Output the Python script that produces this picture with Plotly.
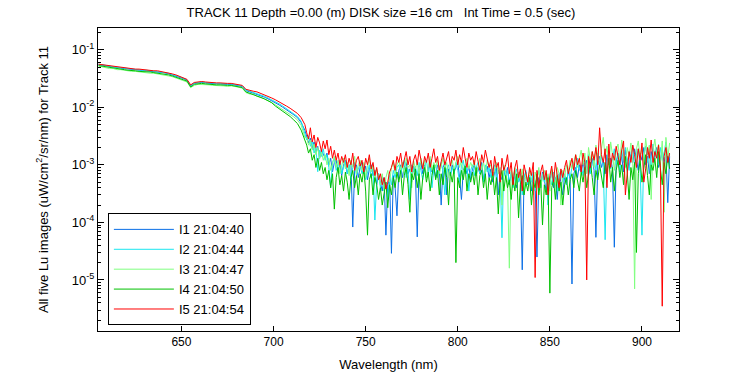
import plotly.graph_objects as go

wavelength = [
    605, 607, 609, 611, 613, 615, 617, 619, 621, 623, 625, 627, 629, 631, 633, 635, 637, 639, 641, 643,
    645, 647, 649, 651, 653, 655, 657, 659, 661, 663, 665, 667, 669, 671, 673, 675, 677, 679, 681, 683,
    685, 687, 689, 691, 693, 695, 697, 699, 701, 703, 705, 707, 709, 711, 713, 715, 717,
    718, 719, 720, 721, 722, 723, 724, 725, 726, 727,
    728, 729, 730, 731, 732, 733, 734, 735, 736, 737,
    738, 739, 740, 741, 742, 743, 744, 745, 746, 747,
    748, 749, 750, 751, 752, 753, 754, 755, 756, 757,
    758, 759, 760, 761, 762, 763, 764, 765, 766, 767,
    768, 769, 770, 771, 772, 773, 774, 775, 776, 777,
    778, 779, 780, 781, 782, 783, 784, 785, 786, 787,
    788, 789, 790, 791, 792, 793, 794, 795, 796, 797,
    798, 799, 800, 801, 802, 803, 804, 805, 806, 807,
    808, 809, 810, 811, 812, 813, 814, 815, 816, 817,
    818, 819, 820, 821, 822, 823, 824, 825, 826, 827,
    828, 829, 830, 831, 832, 833, 834, 835, 836, 837,
    838, 839, 840, 841, 842, 843, 844, 845, 846, 847,
    848, 849, 850, 851, 852, 853, 854, 855, 856, 857,
    858, 859, 860, 861, 862, 863, 864, 865, 866, 867,
    868, 869, 870, 871, 872, 873, 874, 875, 876, 877,
    878, 879, 880, 881, 882, 883, 884, 885, 886, 887,
    888, 889, 890, 891, 892, 893, 894, 895, 896, 897,
    898, 899, 900, 901, 902, 903, 904, 905, 906, 907,
    908, 909, 910, 911, 912, 913, 914, 915,
]

lu_i1 = [
    5.5e-2, 5.4e-2, 5.2e-2, 5.1e-2, 5.0e-2, 4.9e-2, 4.8e-2, 4.7e-2, 4.6e-2, 4.55e-2, 4.5e-2, 4.4e-2, 4.35e-2, 4.3e-2, 4.25e-2,
    4.2e-2, 4.1e-2, 4.05e-2, 3.95e-2, 3.8e-2, 3.65e-2, 3.5e-2, 3.3e-2, 3.15e-2, 2.95e-2, 2.35e-2, 2.6e-2, 2.65e-2, 2.7e-2,
    2.65e-2, 2.6e-2, 2.6e-2, 2.55e-2, 2.55e-2, 2.5e-2, 2.5e-2, 2.5e-2, 2.45e-2, 2.4e-2, 2.3e-2, 1.95e-2, 1.85e-2, 1.8e-2,
    1.7e-2, 1.6e-2, 1.5e-2, 1.4e-2, 1.3e-2, 1.2e-2, 1.1e-2, 1.0e-2, 9.1e-3, 8.3e-3, 7.4e-3, 6.6e-3, 5.4e-3, 4.0e-3,
    3.0e-3, 2.4e-3, 2.9e-3, 1.9e-3, 2.5e-3, 1.6e-3, 2.1e-3, 1.3e-3, 1.8e-3, 1.5e-3,
    1.3e-3, 1.6e-3, 1.0e-3, 1.3e-3, 7.5e-4, 1.1e-3, 1.2e-3, 8.0e-4, 1.0e-3, 6.5e-4,
    1.0e-3, 1.2e-3, 7.0e-4, 9.0e-4, 1.1e-3, 8.3e-5, 8.0e-4, 1.0e-3, 6.0e-4, 9.0e-4,
    1.1e-3, 7.0e-4, 9.5e-4, 5.5e-4, 8.5e-4, 1.0e-3, 6.5e-4, 8.0e-4, 4.5e-4, 7.0e-4,
    5.0e-4, 3.5e-4, 6.0e-4, 6.0e-5, 4.5e-4, 5.5e-4, 2.9e-5, 6.5e-4, 4.0e-4, 1.3e-4,
    8.0e-4, 1.0e-3, 6.0e-4, 9.0e-4, 1.1e-3, 7.0e-4, 8.5e-4, 5.0e-4, 9.5e-4, 7.5e-4,
    5.6e-5, 9.0e-4, 1.1e-3, 7.0e-4, 1.0e-3, 6.0e-4, 8.5e-4, 1.2e-3, 7.5e-4, 9.0e-4,
    6.0e-4, 1.0e-3, 8.0e-4, 2.0e-4, 9.0e-4, 1.1e-3, 3.0e-4, 8.5e-4, 6.5e-4, 1.0e-3,
    7.5e-4, 9.0e-4, 1.1e-3, 6.0e-4, 2.5e-4, 8.0e-4, 1.0e-3, 7.0e-4, 9.5e-4, 5.5e-4,
    8.5e-4, 1.0e-3, 6.5e-4, 9.0e-4, 7.0e-4, 1.1e-3, 5.5e-4, 8.0e-4, 9.5e-4, 6.0e-4,
    8.5e-4, 5.0e-4, 7.5e-4, 9.0e-4, 3.0e-4, 7.0e-4, 5.5e-4, 8.0e-4, 6.0e-4, 9.0e-4,
    4.5e-4, 7.0e-4, 5.5e-4, 8.0e-4, 4.0e-4, 6.5e-4, 5.0e-4, 1.5e-5, 6.0e-4, 7.5e-4,
    4.5e-4, 6.5e-4, 3.5e-4, 7.0e-4, 5.0e-4, 2.5e-5, 6.0e-4, 4.0e-4, 7.5e-4, 5.5e-4,
    3.5e-4, 6.5e-4, 5.0e-4, 8.0e-4, 4.0e-4, 6.0e-4, 2.5e-4, 7.0e-4, 5.0e-4, 3.0e-4,
    6.5e-4, 4.5e-4, 8.0e-4, 5.5e-4, 8.5e-6, 7.0e-4, 9.0e-4, 6.0e-4, 1.0e-3, 7.5e-4,
    1.1e-3, 8.0e-4, 1.2e-3, 6.5e-4, 9.5e-4, 1.3e-3, 8.0e-4, 5.5e-5, 1.0e-3, 1.4e-3,
    9.0e-4, 1.2e-3, 7.0e-4, 1.5e-3, 1.0e-3, 1.3e-3, 8.5e-4, 3.7e-5, 1.1e-3, 1.6e-3,
    1.0e-3, 1.4e-3, 7.5e-4, 1.8e-3, 1.2e-3, 9.0e-4, 1.5e-3, 1.1e-3, 1.9e-3, 1.3e-3,
    8.0e-4, 1.6e-3, 1.2e-3, 2.0e-3, 1.0e-3, 1.4e-3, 7.0e-4, 1.7e-3, 1.1e-3, 1.5e-3,
    2.0e-3, 9.0e-4, 1.3e-3, 1.8e-3, 1.1e-3, 1.6e-3, 2.2e-4, 1.4e-3,
]

lu_i2 = [
    5.6e-2, 5.5e-2, 5.3e-2, 5.2e-2, 5.0e-2, 5.0e-2, 4.9e-2, 4.8e-2, 4.7e-2, 4.6e-2, 4.6e-2, 4.5e-2, 4.4e-2, 4.4e-2, 4.3e-2,
    4.3e-2, 4.2e-2, 4.1e-2, 4.0e-2, 3.9e-2, 3.7e-2, 3.6e-2, 3.4e-2, 3.2e-2, 3.0e-2, 2.4e-2, 2.65e-2, 2.7e-2, 2.75e-2,
    2.7e-2, 2.65e-2, 2.65e-2, 2.6e-2, 2.6e-2, 2.55e-2, 2.55e-2, 2.55e-2, 2.5e-2, 2.45e-2, 2.35e-2, 2.0e-2, 1.9e-2, 1.85e-2,
    1.75e-2, 1.65e-2, 1.55e-2, 1.45e-2, 1.35e-2, 1.25e-2, 1.15e-2, 1.05e-2, 9.4e-3, 8.6e-3, 7.7e-3, 6.9e-3, 5.7e-3, 3.6e-3,
    2.7e-3, 3.2e-3, 2.1e-3, 2.6e-3, 1.6e-3, 2.0e-3, 7.6e-4, 1.8e-3, 1.4e-3, 1.9e-3,
    1.2e-3, 1.5e-3, 9.0e-4, 4.0e-4, 1.1e-3, 1.3e-3, 8.0e-4, 1.0e-3, 1.2e-3, 7.0e-4,
    9.5e-4, 1.2e-3, 7.0e-4, 1.0e-3, 5.5e-4, 9.0e-4, 1.1e-3, 6.5e-4, 8.5e-4, 1.0e-3,
    7.0e-4, 9.0e-4, 5.5e-4, 8.0e-4, 1.0e-3, 6.0e-4, 8.5e-4, 1.1e-4, 5.0e-4, 7.0e-4,
    4.0e-4, 6.0e-4, 3.5e-4, 5.0e-4, 2.5e-4, 6.5e-4, 4.5e-4, 8.0e-4, 6.0e-4, 9.0e-4,
    1.0e-3, 7.0e-4, 9.0e-4, 1.2e-3, 6.0e-4, 8.5e-4, 2.5e-4, 1.0e-3, 7.5e-4, 9.5e-4,
    6.5e-4, 1.1e-3, 8.0e-4, 5.5e-4, 9.0e-4, 1.2e-3, 7.0e-4, 1.0e-3, 4.0e-4, 8.5e-4,
    1.0e-3, 6.0e-4, 9.0e-4, 1.1e-3, 7.5e-4, 3.0e-4, 8.5e-4, 1.0e-3, 6.5e-4, 9.0e-4,
    7.0e-4, 1.1e-3, 8.0e-4, 5.0e-4, 9.5e-4, 1.2e-3, 7.0e-4, 9.0e-4, 3.5e-4, 8.0e-4,
    1.0e-3, 6.5e-4, 9.0e-4, 1.1e-3, 7.0e-4, 8.5e-4, 5.0e-4, 1.0e-3, 7.5e-4, 9.0e-4,
    6.0e-4, 8.5e-4, 1.0e-3, 5.5e-4, 8.0e-4, 7.0e-4, 5.4e-5, 9.0e-4, 6.0e-4, 8.0e-4,
    5.0e-4, 7.5e-4, 4.0e-4, 6.5e-4, 8.5e-4, 5.0e-4, 7.0e-4, 3.0e-4, 6.0e-4, 8.0e-4,
    4.5e-4, 6.5e-4, 5.0e-4, 7.5e-4, 3.5e-4, 6.0e-4, 8.0e-4, 4.0e-4, 6.5e-4, 5.0e-4,
    7.0e-4, 2.0e-4, 6.0e-4, 4.5e-4, 7.5e-4, 5.5e-4, 3.5e-4, 6.5e-4, 8.0e-4, 5.0e-4,
    7.0e-4, 4.5e-4, 8.5e-4, 6.0e-4, 9.0e-4, 1.1e-3, 7.0e-4, 1.3e-3, 8.0e-4, 1.0e-3,
    6.5e-4, 1.2e-3, 9.0e-4, 1.5e-3, 7.0e-4, 1.1e-3, 1.3e-3, 8.0e-4, 1.6e-3, 1.0e-3,
    1.4e-3, 9.0e-4, 5.0e-5, 1.2e-3, 1.7e-3, 8.5e-4, 1.3e-3, 1.9e-3, 1.0e-3, 1.5e-3,
    7.5e-4, 1.8e-3, 1.1e-3, 2.0e-3, 1.2e-3, 8.0e-4, 1.6e-3, 2.2e-3, 1.0e-3, 1.4e-3,
    1.9e-3, 9.0e-4, 6.0e-5, 1.5e-3, 2.1e-3, 1.1e-3, 1.7e-3, 8.0e-4, 2.3e-3, 1.3e-3,
    1.8e-3, 1.0e-3, 2.0e-3, 1.2e-3, 1.6e-3, 2.5e-3, 1.1e-3, 1.5e-3,
]

lu_i3 = [
    5.2e-2, 5.0e-2, 4.9e-2, 4.7e-2, 4.7e-2, 4.5e-2, 4.5e-2, 4.4e-2, 4.2e-2, 4.2e-2, 4.2e-2, 4.1e-2, 4.0e-2, 4.0e-2, 3.9e-2,
    3.9e-2, 3.8e-2, 3.7e-2, 3.7e-2, 3.5e-2, 3.4e-2, 3.2e-2, 3.1e-2, 2.9e-2, 2.75e-2, 2.2e-2, 2.4e-2, 2.5e-2, 2.5e-2,
    2.45e-2, 2.45e-2, 2.4e-2, 2.4e-2, 2.35e-2, 2.35e-2, 2.3e-2, 2.35e-2, 2.3e-2, 2.2e-2, 2.15e-2, 1.8e-2, 1.7e-2, 1.7e-2,
    1.55e-2, 1.5e-2, 1.4e-2, 1.3e-2, 1.2e-2, 1.1e-2, 1.0e-2, 9.3e-3, 8.5e-3, 7.6e-3, 6.8e-3, 6.0e-3, 4.9e-3, 3.0e-3,
    3.0e-3, 2.2e-3, 2.7e-3, 1.8e-3, 2.3e-3, 1.5e-3, 2.0e-3, 1.3e-3, 1.7e-3, 1.2e-3,
    1.5e-3, 1.0e-3, 1.3e-3, 8.0e-4, 1.1e-3, 1.4e-3, 9.0e-4, 1.2e-3, 7.0e-4, 1.0e-3,
    1.3e-3, 8.5e-4, 1.1e-3, 6.5e-4, 1.2e-3, 9.0e-4, 1.4e-3, 7.0e-4, 1.0e-3, 1.2e-3,
    8.0e-4, 1.1e-3, 6.0e-4, 9.5e-4, 1.3e-3, 7.5e-4, 1.0e-3, 5.5e-4, 8.5e-4, 6.0e-4,
    4.5e-4, 7.0e-4, 3.5e-4, 6.0e-4, 8.0e-4, 5.0e-4, 9.0e-4, 1.1e-3, 7.0e-4, 1.0e-3,
    1.2e-3, 8.0e-4, 1.1e-3, 6.5e-4, 1.3e-3, 9.0e-4, 1.0e-3, 4.0e-4, 1.2e-3, 8.5e-4,
    1.1e-3, 7.0e-4, 1.3e-3, 9.0e-4, 1.2e-3, 6.0e-4, 1.0e-3, 1.4e-3, 8.0e-4, 1.1e-3,
    9.0e-4, 1.2e-3, 7.0e-4, 1.0e-3, 1.3e-3, 8.5e-4, 1.1e-3, 6.0e-4, 9.5e-4, 1.2e-3,
    8.0e-4, 1.1e-3, 1.4e-3, 9.0e-4, 1.2e-3, 7.0e-4, 1.0e-3, 1.3e-3, 8.5e-4, 1.1e-3,
    9.0e-4, 1.2e-3, 6.5e-4, 1.0e-3, 1.3e-3, 8.0e-4, 1.1e-3, 7.0e-4, 1.2e-3, 9.0e-4,
    1.0e-3, 6.0e-4, 8.5e-4, 1.1e-3, 7.0e-4, 9.0e-4, 2.0e-4, 1.0e-3, 7.5e-4, 5.0e-4,
    1.6e-5, 8.0e-4, 6.0e-4, 9.0e-4, 4.5e-4, 7.5e-4, 5.5e-4, 8.5e-4, 3.5e-4, 7.0e-4,
    5.0e-4, 8.0e-4, 6.0e-4, 3.0e-4, 7.5e-4, 5.5e-4, 9.0e-4, 4.0e-4, 6.5e-4, 8.0e-4,
    5.0e-4, 7.0e-4, 3.5e-4, 8.5e-4, 6.0e-4, 4.5e-4, 9.0e-4, 7.0e-4, 2.0e-4, 8.0e-4,
    6.0e-4, 1.0e-3, 7.5e-4, 1.2e-3, 8.5e-4, 1.1e-3, 1.5e-3, 9.0e-4, 1.3e-3, 1.8e-3,
    1.0e-3, 1.6e-3, 7.0e-4, 2.0e-3, 1.2e-3, 1.7e-3, 9.0e-4, 2.2e-3, 1.4e-3, 1.1e-3,
    1.9e-3, 3.0e-3, 1.3e-3, 2.1e-3, 1.0e-3, 2.5e-3, 1.5e-3, 8.0e-4, 1.8e-3, 2.3e-3,
    1.2e-3, 2.7e-3, 1.6e-3, 9.0e-4, 2.0e-3, 1.4e-3, 2.4e-3, 1.1e-3, 7.0e-6, 1.9e-3,
    2.6e-3, 1.3e-3, 2.1e-3, 1.0e-3, 2.9e-3, 1.5e-3, 2.2e-3, 2.5e-4, 1.8e-3, 2.8e-3,
    1.4e-3, 2.3e-3, 1.0e-3, 2.6e-3, 1.5e-4, 3.0e-3, 1.3e-3, 2.4e-3,
]

lu_i4 = [
    5.3e-2, 5.2e-2, 5.0e-2, 4.9e-2, 4.8e-2, 4.7e-2, 4.6e-2, 4.5e-2, 4.4e-2, 4.4e-2, 4.3e-2, 4.2e-2, 4.2e-2, 4.1e-2, 4.1e-2,
    4.0e-2, 3.9e-2, 3.9e-2, 3.8e-2, 3.65e-2, 3.5e-2, 3.35e-2, 3.15e-2, 3.0e-2, 2.85e-2, 2.25e-2, 2.5e-2, 2.55e-2, 2.6e-2,
    2.55e-2, 2.5e-2, 2.5e-2, 2.45e-2, 2.45e-2, 2.4e-2, 2.4e-2, 2.4e-2, 2.35e-2, 2.3e-2, 2.2e-2, 1.85e-2, 1.75e-2, 1.7e-2,
    1.6e-2, 1.5e-2, 1.4e-2, 1.3e-2, 1.2e-2, 1.05e-2, 9.5e-3, 8.6e-3, 7.7e-3, 6.9e-3, 6.0e-3, 5.2e-3, 4.0e-3, 2.6e-3,
    2.2e-3, 1.6e-3, 1.9e-3, 1.2e-3, 1.5e-3, 9.0e-4, 1.3e-3, 8.0e-4, 1.1e-3, 7.0e-4,
    9.0e-4, 5.5e-4, 8.0e-4, 4.0e-4, 7.0e-4, 1.7e-4, 6.0e-4, 9.0e-4, 4.5e-4, 6.5e-4,
    3.5e-4, 7.5e-4, 5.0e-4, 2.5e-4, 6.0e-4, 8.0e-4, 4.0e-4, 6.5e-4, 3.0e-4, 7.0e-4,
    5.0e-4, 8.5e-4, 3.5e-4, 6.0e-5, 5.5e-4, 7.0e-4, 3.0e-4, 6.0e-4, 4.5e-4, 2.5e-4,
    4.0e-4, 2.0e-4, 3.5e-4, 5.0e-4, 1.8e-4, 4.5e-4, 3.0e-4, 6.0e-4, 4.0e-4, 7.5e-4,
    5.0e-4, 8.0e-4, 3.0e-4, 6.5e-4, 9.0e-4, 4.5e-4, 1.5e-4, 7.0e-4, 5.5e-4, 8.5e-4,
    4.0e-4, 7.0e-4, 2.5e-4, 6.0e-4, 9.0e-4, 5.0e-4, 7.5e-4, 3.5e-4, 6.5e-4, 1.0e-3,
    5.5e-4, 8.0e-4, 3.0e-4, 7.0e-4, 4.5e-4, 9.0e-4, 6.0e-4, 2.0e-4, 7.5e-4, 5.0e-4,
    8.5e-4, 2.0e-5, 6.0e-4, 4.0e-4, 8.0e-4, 5.5e-4, 9.5e-4, 3.5e-4, 7.0e-4, 5.0e-4,
    7.5e-4, 4.5e-4, 9.0e-4, 3.0e-4, 6.5e-4, 8.0e-4, 4.0e-4, 7.0e-4, 2.5e-4, 6.0e-4,
    4.5e-4, 7.5e-4, 3.0e-4, 6.0e-4, 1.4e-4, 5.5e-4, 8.0e-4, 3.5e-4, 6.5e-4, 4.0e-4,
    5.5e-4, 2.5e-4, 6.0e-4, 3.5e-4, 7.0e-4, 1.2e-4, 4.5e-4, 6.5e-4, 3.0e-4, 5.0e-4,
    3.5e-4, 6.0e-4, 2.0e-4, 5.0e-4, 4.0e-4, 7.0e-4, 3.0e-4, 5.5e-4, 9.0e-5, 4.5e-4,
    3.0e-4, 6.0e-4, 5.9e-6, 4.0e-4, 5.5e-4, 2.5e-4, 6.5e-4, 3.5e-4, 5.0e-4, 2.0e-4,
    4.5e-4, 6.0e-4, 3.0e-4, 5.5e-4, 7.0e-4, 4.0e-4, 8.0e-4, 5.0e-4, 3.5e-4, 7.5e-4,
    5.0e-4, 9.0e-4, 4.0e-4, 7.0e-4, 1.1e-3, 6.0e-4, 3.0e-4, 8.0e-4, 5.5e-4, 1.0e-3,
    6.5e-4, 4.0e-4, 1.1e-3, 7.0e-4, 1.3e-3, 5.0e-4, 9.0e-4, 3.5e-4, 8.0e-4, 1.2e-3,
    6.0e-4, 1.0e-3, 4.5e-4, 1.4e-3, 7.5e-4, 2.5e-4, 9.0e-4, 5.5e-4, 1.1e-3, 3.0e-5,
    7.0e-4, 1.2e-3, 5.0e-4, 9.5e-4, 1.5e-3, 6.5e-4, 3.0e-4, 1.0e-3, 8.0e-4, 1.3e-3,
    6.0e-4, 1.7e-3, 9.0e-4, 4.5e-4, 1.1e-3, 7.0e-4, 1.4e-3, 8.5e-4,
]

lu_i5 = [
    5.6e-2, 5.5e-2, 5.4e-2, 5.2e-2, 5.2e-2, 5.0e-2, 5.0e-2, 4.8e-2, 4.8e-2, 4.7e-2, 4.6e-2, 4.6e-2, 4.5e-2, 4.4e-2, 4.4e-2,
    4.3e-2, 4.3e-2, 4.2e-2, 4.1e-2, 3.95e-2, 3.8e-2, 3.65e-2, 3.45e-2, 3.3e-2, 3.05e-2, 2.45e-2, 2.7e-2, 2.75e-2, 2.8e-2,
    2.75e-2, 2.7e-2, 2.7e-2, 2.65e-2, 2.65e-2, 2.6e-2, 2.6e-2, 2.6e-2, 2.55e-2, 2.5e-2, 2.4e-2, 2.05e-2, 1.95e-2, 1.9e-2,
    1.85e-2, 1.75e-2, 1.65e-2, 1.55e-2, 1.45e-2, 1.35e-2, 1.25e-2, 1.15e-2, 1.05e-2, 9.6e-3, 8.7e-3, 7.8e-3, 6.6e-3, 5.0e-3,
    3.6e-3, 2.8e-3, 4.4e-3, 2.5e-3, 3.3e-3, 2.0e-3, 3.0e-3, 2.4e-3, 1.7e-3, 2.6e-3,
    1.9e-3, 2.7e-3, 1.5e-3, 2.1e-3, 1.3e-3, 1.8e-3, 1.2e-3, 1.6e-3, 1.0e-3, 1.4e-3,
    1.1e-3, 1.5e-3, 9.0e-4, 1.3e-3, 1.0e-3, 1.6e-3, 8.0e-4, 1.2e-3, 1.4e-3, 9.5e-4,
    1.2e-3, 7.5e-4, 1.3e-3, 1.0e-3, 1.5e-3, 8.5e-4, 1.1e-3, 6.5e-4, 9.0e-4, 5.5e-4,
    7.0e-4, 4.5e-4, 6.0e-4, 3.8e-4, 5.0e-4, 7.5e-4, 9.0e-4, 1.2e-3, 8.0e-4, 1.4e-3,
    1.1e-3, 1.6e-3, 9.0e-4, 1.3e-3, 1.7e-3, 1.0e-3, 1.4e-3, 7.5e-4, 1.2e-3, 1.5e-3,
    1.0e-3, 1.8e-3, 1.2e-3, 8.5e-4, 1.4e-3, 1.1e-3, 1.6e-3, 9.0e-4, 1.3e-3, 1.9e-3,
    1.1e-3, 1.4e-3, 8.0e-4, 1.2e-3, 1.6e-3, 1.0e-3, 1.3e-3, 1.7e-3, 9.5e-4, 1.4e-3,
    1.2e-3, 1.8e-3, 1.0e-3, 1.5e-3, 1.1e-3, 2.0e-3, 1.3e-3, 9.0e-4, 1.6e-3, 1.2e-3,
    1.4e-3, 1.0e-3, 1.7e-3, 1.2e-3, 8.0e-4, 1.5e-3, 1.1e-3, 1.8e-3, 1.3e-3, 9.0e-4,
    1.2e-3, 6.5e-4, 1.4e-3, 9.0e-4, 1.1e-3, 5.0e-4, 1.3e-3, 8.0e-4, 1.0e-3, 1.5e-3,
    7.0e-4, 1.1e-3, 4.5e-4, 9.0e-4, 1.2e-3, 6.0e-4, 8.5e-4, 3.5e-4, 1.0e-3, 7.0e-4,
    5.0e-4, 9.0e-4, 6.5e-4, 1.1e-3, 1.1e-5, 8.0e-4, 4.0e-4, 7.5e-4, 1.0e-3, 5.5e-4,
    8.0e-4, 3.0e-4, 6.5e-4, 9.5e-4, 5.0e-4, 1.1e-3, 7.0e-4, 4.0e-4, 8.5e-4, 6.0e-4,
    9.0e-4, 1.2e-3, 7.0e-4, 1.0e-3, 1.3e-3, 8.0e-4, 1.5e-3, 1.0e-3, 1.3e-3, 7.5e-4,
    1.6e-3, 1.1e-3, 1.0e-5, 1.4e-3, 9.0e-4, 1.7e-3, 1.2e-3, 2.0e-3, 1.0e-3, 4.4e-3,
    1.5e-3, 1.1e-3, 1.9e-3, 4.0e-4, 2.3e-3, 9.0e-4, 1.6e-3, 1.2e-3, 2.1e-3, 1.4e-3,
    1.0e-3, 1.8e-3, 2.6e-3, 3.0e-4, 7.5e-4, 1.7e-3, 1.1e-3, 2.2e-3, 1.5e-3, 9.0e-4,
    1.9e-3, 1.2e-3, 2.4e-3, 5.0e-4, 8.5e-4, 2.0e-3, 1.3e-3, 2.7e-3, 1.1e-3, 1.7e-3,
    1.3e-3, 2.2e-3, 9.0e-4, 3.5e-6, 1.4e-3, 2.0e-3, 1.1e-3, 1.6e-3,
]

series_names = ["I1 21:04:40", "I2 21:04:44", "I3 21:04:47", "I4 21:04:50", "I5 21:04:54"]
series_values = [lu_i1, lu_i2, lu_i3, lu_i4, lu_i5]
series_colors = ["#0a6fe6", "#19e6f0", "#80ff80", "#00c000", "#ff0000"]

x_tick_vals = [650, 700, 750, 800, 850, 900]
y_tick_vals = [1e-5, 1e-4, 1e-3, 1e-2, 1e-1]
y_tick_text = ["10<sup>-5</sup>", "10<sup>-4</sup>", "10<sup>-3</sup>", "10<sup>-2</sup>", "10<sup>-1</sup>"]
y_minor_vals = [m * 10.0 ** e for e in range(-6, 0) for m in range(2, 10)]

title_text = "TRACK 11 Depth =0.00 (m) DISK size =16 cm   Int Time = 0.5 (sec)"

font_family = "Liberation Sans, Arial, sans-serif"

for v in series_values:
    assert len(v) == len(wavelength), (len(v), len(wavelength))

fig = go.Figure()
for name, vals, col in zip(series_names, series_values, series_colors):
    fig.add_trace(go.Scatter(
        x=wavelength, y=vals, mode="lines", name=name,
        line=dict(color=col, width=1),
    ))

fig.update_layout(
    width=750, height=375,
    margin=dict(l=98, r=71, t=28, b=44),
    paper_bgcolor="white", plot_bgcolor="white",
    font=dict(family=font_family, size=12, color="black"),
    title=dict(text=title_text, x=0.508, xanchor="center", y=0.967, yanchor="middle",
               font=dict(size=13, family=font_family)),
    showlegend=True,
    legend=dict(
        x=0.017, y=0.388, xanchor="left", yanchor="top",
        bordercolor="black", borderwidth=1, bgcolor="white",
        font=dict(size=13, family=font_family),
        itemwidth=60, tracegroupgap=0,
    ),
)

fig.update_xaxes(
    range=[604.7, 920.1], automargin=False,
    tickmode="array", tickvals=x_tick_vals,
    ticks="inside", ticklen=5, tickcolor="black",
    ticklabelstandoff=0,
    showline=True, linecolor="black", linewidth=1, mirror="allticks",
    showgrid=False, zeroline=False,
    title=dict(text="Wavelength (nm)", font=dict(size=13), standoff=11),
    tickfont=dict(size=12),
)

fig.update_yaxes(
    type="log", range=[-5.887, -0.623], automargin=False,
    tickmode="array", tickvals=y_tick_vals, ticktext=y_tick_text,
    ticks="inside", ticklen=6, tickcolor="black",
    minor=dict(tickmode="array", tickvals=y_minor_vals, ticks="inside", ticklen=3, tickcolor="black", showgrid=False),
    showline=True, linecolor="black", linewidth=1, mirror="allticks",
    showgrid=False, zeroline=False,
    title=dict(text="All five Lu images (uW/cm<sup>2</sup>/sr/nm) for Track 11", font=dict(size=13), standoff=20),
    tickfont=dict(size=13),
)

fig.write_html("out.html", config={"displayModeBar": False},
               post_script="document.body.style.margin='0';")
